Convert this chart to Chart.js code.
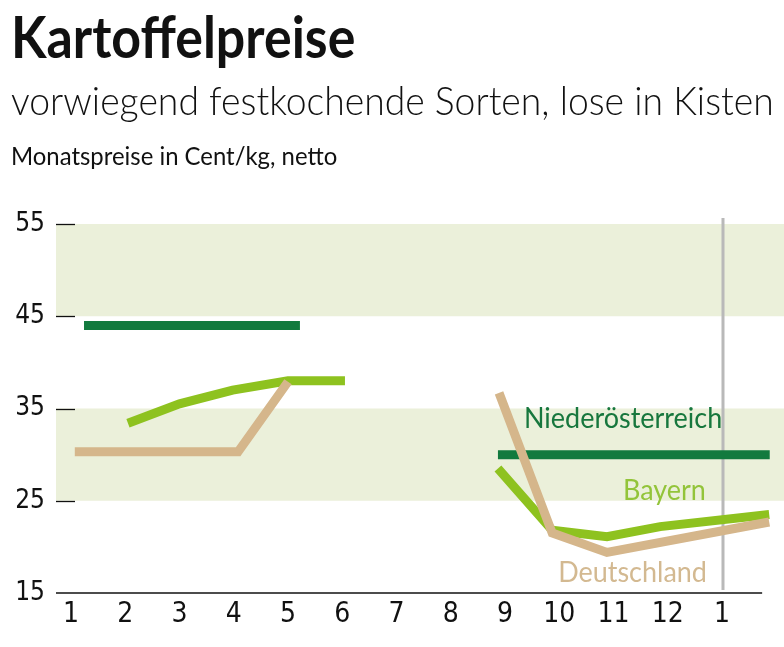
<!DOCTYPE html>
<html>
<head>
<meta charset="utf-8">
<script src="https://cdn.jsdelivr.net/npm/chart.js@4"></script>
<style>
  html, body { margin: 0; padding: 0; background: #fff; }
  #wrap { position: relative; width: 784px; height: 647px; overflow: hidden; }
  canvas { position: absolute; left: 0; top: 0; }
  .t { position: absolute; white-space: nowrap; color: #111; line-height: 1; transform-origin: 0 0; }
  #title { left: 11px; top: 1px; font: 700 58px Lato, "Open Sans", sans-serif; transform: scaleX(0.895); }
  #sub { left: 11px; top: 77px; font: 300 39px Lato, "Open Sans", sans-serif; transform: scaleX(0.957); }
  #unit { left: 11px; top: 140px; font: 400 25px Lato, "Open Sans", sans-serif; transform: scaleX(0.956); }
</style>
</head>
<body>
<div id="wrap">
  <canvas id="c" width="784" height="647"></canvas>
  <div class="t" id="title">Kartoffelpreise</div>
  <div class="t" id="sub">vorwiegend festkochende Sorten, lose in Kisten</div>
  <div class="t" id="unit">Monatspreise in Cent/kg, netto</div>
</div>
<script>
// ---- data (month position on x, price in Cent/kg on y; null = gap) ----
const monthPositions = [1, 2, 3, 4, 5, 6, 7, 8, 9, 10, 11, 12, 13];
const monthLabels = ['1', '2', '3', '4', '5', '6', '7', '8', '9', '10', '11', '12', '1'];
const yTickValues = [15, 25, 35, 45, 55];

const deutschlandX = [1.07, 4.08, 5.0, 7, 8.89, 9.87, 10.88, 13.87];
const deutschlandY = [30.3, 30.3, 37.9, null, 36.7, 21.5, 19.4, 22.7];

const bayernX = [2.05, 3.0, 3.98, 5.0, 6.05, 7, 8.87, 9.87, 10.88, 11.86, 13.87];
const bayernY = [33.4, 35.5, 37.0, 38.0, 38.0, null, 28.5, 21.8, 21.1, 22.2, 23.5];

const niederX = [1.24, 5.22, 7, 8.87, 13.88];
const niederY = [44.0, 44.0, null, 30.0, 30.0];

const bandRanges = [[45, 55], [25, 35]];

// ---- styling ----
const C_NIEDER = '#127a3e';
const C_BAYERN = '#8ec21f';
const C_DE = '#d5b68b';
const C_BAND = '#ebf0da';

const seriesLabels = [
  { text: 'Niederösterreich', color: '#17773d', x: 9.35, y: 32.9 },
  { text: 'Bayern', color: '#93c43a', x: 11.175, y: 25.08 },
  { text: 'Deutschland', color: '#d3b991', x: 9.98, y: 16.19 }
];

const toPts = (xs, ys) => xs.map((x, i) => ({ x: x, y: ys[i] }));

const decor = {
  id: 'decor',
  beforeDatasetsDraw(chart) {
    const { ctx, chartArea: a, scales: { x, y } } = chart;
    ctx.save();
    ctx.fillStyle = C_BAND;
    bandRanges.forEach(([lo, hi]) => {
      const t = y.getPixelForValue(hi), b = y.getPixelForValue(lo);
      ctx.fillRect(a.left, t, a.right - a.left, b - t);
    });
    // short tick marks
    ctx.strokeStyle = '#111';
    ctx.lineWidth = 1.3;
    yTickValues.slice(1).forEach(v => {
      const p = Math.round(y.getPixelForValue(v)) + 0.5;
      ctx.beginPath(); ctx.moveTo(a.left, p); ctx.lineTo(a.left + 19, p); ctx.stroke();
    });
    // baseline
    ctx.lineWidth = 1.6;
    const by = Math.round(y.getPixelForValue(15));
    ctx.beginPath(); ctx.moveTo(a.left, by); ctx.lineTo(x.getPixelForValue(13.74), by); ctx.stroke();
    // gray year divider
    const gx = x.getPixelForValue(13) + 1;
    ctx.strokeStyle = '#b9b9b9';
    ctx.lineWidth = 3;
    ctx.beginPath(); ctx.moveTo(gx, y.getPixelForValue(55) - 6); ctx.lineTo(gx, by - 3); ctx.stroke();
    ctx.restore();
  },
  afterDatasetsDraw(chart) {
    const { ctx, scales: { x, y } } = chart;
    ctx.save();
    ctx.font = '29px Lato, "Open Sans", sans-serif';
    ctx.textBaseline = 'alphabetic';
    ctx.textAlign = 'left';
    seriesLabels.forEach(l => {
      ctx.save();
      ctx.translate(x.getPixelForValue(l.x), y.getPixelForValue(l.y));
      ctx.scale(0.93, 1);
      ctx.fillStyle = l.color;
      ctx.fillText(l.text, 0, 0);
      ctx.restore();
    });
    ctx.restore();
  }
};

new Chart(document.getElementById('c'), {
  type: 'line',
  data: {
    datasets: [
      { label: 'Deutschland', data: toPts(deutschlandX, deutschlandY), borderColor: C_DE },
      { label: 'Bayern', data: toPts(bayernX, bayernY), borderColor: C_BAYERN },
      { label: 'Niederösterreich', data: toPts(niederX, niederY), borderColor: C_NIEDER }
    ]
  },
  options: {
    responsive: false,
    animation: false,
    spanGaps: false,
    layout: { padding: { top: 224, left: 0, right: 0, bottom: 0 } },
    elements: {
      line: { borderWidth: 9, tension: 0, borderCapStyle: 'butt', borderJoinStyle: 'miter', fill: false },
      point: { radius: 0, hoverRadius: 0 }
    },
    plugins: { legend: { display: false }, tooltip: { enabled: false } },
    scales: {
      x: {
        type: 'linear',
        min: 0.7235,
        max: 14.143,
        afterFit: s => { s.height = 54; },
        afterBuildTicks: s => { s.ticks = monthPositions.map(v => ({ value: v })); },
        grid: { display: false, drawTicks: false },
        border: { display: false },
        ticks: {
          autoSkip: false,
          maxRotation: 0,
          padding: 5,
          color: '#111',
          font: { family: '"DejaVu Sans Condensed", Lato, sans-serif', size: 28 },
          callback: v => monthLabels[monthPositions.indexOf(v)]
        }
      },
      y: {
        min: 15,
        max: 55,
        afterFit: s => { s.width = 56; },
        afterBuildTicks: s => { s.ticks = yTickValues.map(v => ({ value: v })); },
        grid: { display: false, drawTicks: false },
        border: { display: false },
        ticks: {
          padding: 11,
          color: '#111',
          font: { family: '"DejaVu Sans Condensed", Lato, sans-serif', size: 26 }
        }
      }
    }
  },
  plugins: [decor]
});
</script>
</body>
</html>
